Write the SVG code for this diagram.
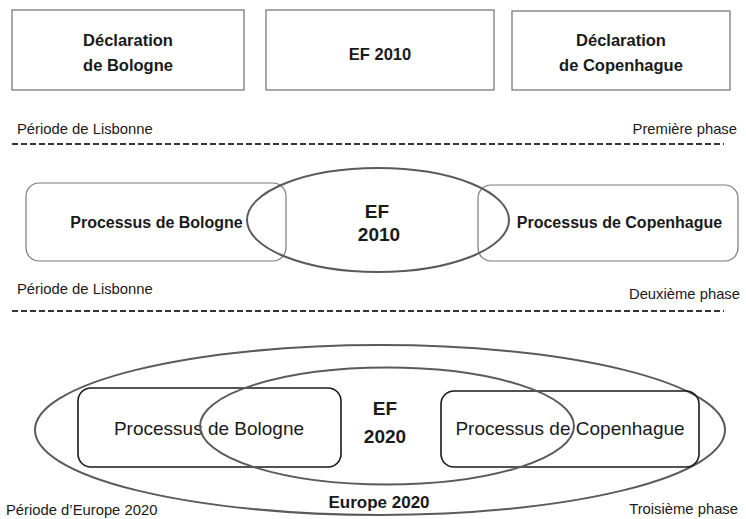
<svg xmlns="http://www.w3.org/2000/svg" width="746" height="519" viewBox="0 0 746 519">
<style>
text{font-family:"Liberation Sans",Arial,sans-serif;fill:#1a1a1a}
.b{font-weight:bold}
.lbl{font-size:14.8px}
.box{fill:#fff;stroke:#6e6e6e;stroke-width:1.2}
.rr2{fill:none;stroke:#7a7a7a;stroke-width:1.2}
.rr3{fill:none;stroke:#1a1a1a;stroke-width:1.6}
.ell{fill:none;stroke:#5a5a5a;stroke-width:2}
.dash{stroke:#333;stroke-width:2;stroke-dasharray:6 3;fill:none}
</style>
<g id="decl-bologne">
<rect class="box" x="12" y="10" width="232" height="80"/>
<text class="b" x="128" y="46" font-size="16.5" text-anchor="middle">Déclaration</text>
<text class="b" x="128" y="71" font-size="16.5" text-anchor="middle">de Bologne</text>
</g>
<g id="ef2010-top">
<rect class="box" x="266" y="10" width="228" height="80"/>
<text class="b" x="380" y="60" font-size="16.5" text-anchor="middle">EF 2010</text>
</g>
<g id="decl-copenhague">
<rect class="box" x="512" y="11" width="218" height="79"/>
<text class="b" x="621" y="46" font-size="16.5" text-anchor="middle">Déclaration</text>
<text class="b" x="621" y="71" font-size="16.5" text-anchor="middle">de Copenhague</text>
</g>
<g id="labels">
<text class="lbl" x="17" y="134">Période de Lisbonne</text>
<text class="lbl" x="737" y="134" text-anchor="end">Première phase</text>
<text class="lbl" x="17" y="294">Période de Lisbonne</text>
<text class="lbl" x="740" y="299" text-anchor="end">Deuxième phase</text>
<text class="lbl" x="6" y="515">Période d’Europe 2020</text>
<text class="lbl" x="738" y="514" text-anchor="end">Troisième phase</text>
</g>
<g id="connectors">
<line class="dash" x1="12" y1="144" x2="724" y2="144"/>
<line class="dash" x1="12" y1="311" x2="724" y2="311"/>
</g>
<g id="processus-bologne-2">
<rect class="rr2" x="26" y="183" width="260" height="78" rx="13"/>
<text class="b" x="156.5" y="228" font-size="16" text-anchor="middle">Processus de Bologne</text>
</g>
<g id="processus-copenhague-2">
<rect class="rr2" x="478" y="185" width="260" height="76" rx="13"/>
<text class="b" x="619.5" y="228" font-size="16" text-anchor="middle">Processus de Copenhague</text>
</g>
<g id="ef2010">
<ellipse class="ell" cx="378" cy="220" rx="131" ry="52"/>
<text class="b" x="377" y="218" font-size="19" text-anchor="middle">EF</text>
<text class="b" x="379" y="241" font-size="19" text-anchor="middle">2010</text>
</g>
<g id="europe2020">
<ellipse class="ell" cx="380" cy="430" rx="345" ry="85"/>
<text class="b" x="379" y="508" font-size="17" text-anchor="middle">Europe 2020</text>
</g>
<g id="processus-bologne-3">
<rect class="rr3" x="78" y="388" width="263" height="79" rx="13"/>
<text x="209" y="435" font-size="19" text-anchor="middle">Processus de Bologne</text>
</g>
<g id="processus-copenhague-3">
<rect class="rr3" x="441" y="391" width="258" height="76" rx="13"/>
<text x="570" y="435" font-size="19" text-anchor="middle">Processus de Copenhague</text>
</g>
<g id="ef2020">
<ellipse class="ell" cx="387" cy="426" rx="187" ry="58.5" stroke-width="2.6"/>
<text class="b" x="385" y="415" font-size="19" text-anchor="middle">EF</text>
<text class="b" x="385" y="443" font-size="19" text-anchor="middle">2020</text>
</g>
</svg>
